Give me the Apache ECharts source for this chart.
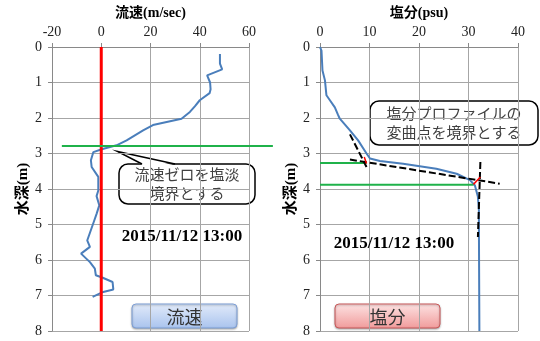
<!DOCTYPE html>
<html>
<head>
<meta charset="utf-8">
<script src="https://cdn.jsdelivr.net/npm/echarts@6/dist/echarts.min.js"></script>
<style>
  html, body { margin: 0; padding: 0; background: #fff; }
  #chart { width: 540px; height: 341px; }
</style>
</head>
<body>
<div id="chart"></div>
<script>
// Velocity profile (m/sec) by depth (m)
const velDepth = [0.2, 0.47, 0.63, 0.8, 1.0, 1.19, 1.3, 1.5, 1.67, 1.83, 2.02, 2.2, 2.35, 2.63, 2.77, 2.88, 2.96, 3.19, 3.38, 3.66, 4.04, 4.2, 4.46, 4.7, 4.88, 5.45, 5.63, 5.82, 6.06, 6.24, 6.43, 6.5, 6.62, 6.83, 6.9, 7.04];
const velocity = [48.2, 48.2, 49.1, 43.0, 44.2, 44.4, 44.0, 40.0, 38.0, 36.0, 32.6, 21.0, 17.0, 10.3, 6.2, 0.2, -3.2, -4.2, -3.9, -1.2, -1.2, -1.9, -0.8, -1.9, -2.8, -5.7, -4.6, -8.2, -4.6, -2.6, -2.2, 0.6, 4.6, 4.9, 0.8, -3.5];

// Salinity profile (psu) by depth (m)
const salDepth = [0, 0.1, 0.66, 0.94, 1.36, 1.5, 1.7, 1.9, 2.02, 2.35, 2.63, 3.0, 3.14, 3.21, 3.29, 3.43, 3.57, 3.75, 3.9, 4.22, 4.6, 5.0, 8.0];
const salinity = [0, 0.3, 0.5, 1.0, 1.3, 2.0, 3.0, 3.6, 4.0, 6.05, 7.7, 9.4, 10.1, 12.1, 16.8, 23.5, 27.6, 30.3, 31.3, 31.9, 32.1, 32.1, 32.2];

// Boundary depth where the velocity crosses zero
const zeroBoundary = { depth: 2.79, from: -16, to: 69.7 };
const zeroLine = { x: 0, depthTop: 0, depthBottom: 8 };

// Tangent lines for the salinity inflection points
const tangentA = [[6.05, 2.46], [9.4, 3.38]];
const tangentB = [[6.05, 3.17], [36.3, 3.85]];
const tangentC = [[32.4, 3.24], [31.9, 5.35]];
const inflectA = [[8.94, 3.1], [9.4, 3.28]];
const inflectB = [[31.0, 3.87], [32.4, 3.66]];
const boundaryUpper = { depth: 3.27, to: 9.4 };
const boundaryLower = { depth: 3.88, to: 31.0 };

// Axis ranges and ticks
const velAxis = { min: -20, max: 60, interval: 20 };
const salAxis = { min: 0, max: 40, interval: 10 };
const depthAxis = { min: 0, max: 8, interval: 1 };

const titles = { vel: '流速(m/sec)', sal: '塩分(psu)', depth: '水深(m)' };
const stamp = '2015/11/12 13:00';

const zip = (xs, ys) => xs.map((x, i) => [x, ys[i]]);

const serif = '"Liberation Serif", "Noto Sans CJK JP", serif';
const cjk = '"Noto Sans CJK JP", sans-serif';
const gridColor = '#a6a6a6';
const blue = '#4a7ebb';
const green = '#1fb24a';

function xAxisFor(idx, range, name) {
  return {
    gridIndex: idx, type: 'value', position: 'top',
    min: range.min, max: range.max, interval: range.interval,
    name: name, nameLocation: 'middle', nameGap: 26,
    nameTextStyle: { fontFamily: serif, fontWeight: 'bold', fontSize: 14, color: '#000' },
    axisLine: { show: true, onZero: false, lineStyle: { color: '#898989', width: 1 } },
    axisTick: { show: true, length: 4, lineStyle: { color: '#898989' } },
    axisLabel: { fontFamily: serif, fontSize: 14, color: '#222', margin: 8 },
    splitLine: { show: true, lineStyle: { color: gridColor, width: 1 } }
  };
}
function yAxisFor(idx, name) {
  return {
    gridIndex: idx, type: 'value', inverse: true,
    min: depthAxis.min, max: depthAxis.max, interval: depthAxis.interval,
    name: name, nameLocation: 'middle', nameGap: 19, nameRotate: 90,
    nameTextStyle: { fontFamily: serif, fontWeight: 'bold', fontSize: 15, color: '#000' },
    axisLine: { show: true, onZero: false, lineStyle: { color: '#898989', width: 1 } },
    axisTick: { show: true, length: 4, lineStyle: { color: '#898989' } },
    axisLabel: { fontFamily: serif, fontSize: 14, color: '#222', margin: 10 },
    splitLine: { show: true, lineStyle: { color: gridColor, width: 1 } }
  };
}

function seg(idx, data, color, width, type, z) {
  return {
    type: 'line', xAxisIndex: idx, yAxisIndex: idx, data: data,
    showSymbol: false, symbol: 'none', silent: true, clip: false, z: z || 3,
    lineStyle: { color: color, width: width, type: type || 'solid' }
  };
}

function callout(x, y, w, h, lines, tail) {
  const children = [{
    type: 'rect', shape: { x: x, y: y, width: w, height: h, r: 9 },
    style: { fill: '#fff', stroke: '#000', lineWidth: 1.5 }
  }];
  if (tail) {
    children.push({
      type: 'polygon', shape: { points: [[tail[0][0] + 1, y + 1.2], tail[1], [tail[2][0] - 1, y + 1.2]] },
      style: { fill: '#fff', stroke: null }
    });
    children.push({
      type: 'polyline', shape: { points: [[tail[0][0], y], tail[1], [tail[2][0], y]] },
      style: { stroke: '#000', lineWidth: 1.5, fill: null }
    });
  }
  children.push({
    type: 'text', style: {
      text: lines.join('\n'), x: x + w / 2, y: y + h / 2,
      align: 'center', verticalAlign: 'middle',
      font: '15px ' + cjk, fill: '#404040', lineHeight: 19
    }
  });
  return { type: 'group', z: 20, children: children };
}

function button(x, y, w, h, label, top, bottom, border) {
  return {
    type: 'group', z: 20, children: [
      {
        type: 'rect', shape: { x: x, y: y, width: w, height: h, r: 4 },
        style: {
          fill: new echarts.graphic.LinearGradient(0, 0, 0, 1, [
            { offset: 0, color: top }, { offset: 1, color: bottom }
          ]),
          stroke: border, lineWidth: 1,
          shadowBlur: 2, shadowOffsetY: 1, shadowColor: 'rgba(0,0,0,0.3)'
        }
      },
      {
        type: 'text', style: {
          text: label, x: x + w / 2, y: y + h / 2 + 1, align: 'center', verticalAlign: 'middle',
          font: '18px ' + cjk, fill: '#333'
        }
      }
    ]
  };
}

const chart = echarts.init(document.getElementById('chart'), null, { renderer: 'canvas' });
chart.setOption({
  animation: false,
  backgroundColor: '#fff',
  grid: [
    { left: 52, top: 47, width: 197, height: 284, outerBoundsMode: 'none', containLabel: false },
    { left: 320, top: 47, width: 198, height: 284, outerBoundsMode: 'none', containLabel: false }
  ],
  xAxis: [xAxisFor(0, velAxis, titles.vel), xAxisFor(1, salAxis, titles.sal)],
  yAxis: [yAxisFor(0, titles.depth), yAxisFor(1, titles.depth)],
  series: [
    seg(0, zip(velocity, velDepth), blue, 2, 'solid', 3),
    seg(0, [[zeroLine.x, zeroLine.depthTop], [zeroLine.x, zeroLine.depthBottom]], '#ff0000', 3, 'solid', 4),

    seg(1, zip(salinity, salDepth), blue, 2, 'solid', 3),
    seg(1, [[0, boundaryUpper.depth], [boundaryUpper.to, boundaryUpper.depth]], green, 2, 'solid', 4),
    seg(1, [[0, boundaryLower.depth], [boundaryLower.to, boundaryLower.depth]], green, 2, 'solid', 4),
    seg(1, tangentA, '#000', 2, [7, 3], 5),
    seg(1, tangentB, '#000', 2, [7, 3], 5),
    seg(1, tangentC, '#000', 2, [7, 3], 5),
    seg(1, inflectA, '#ff0000', 1.5, 'solid', 6),
    seg(1, inflectB, '#ff0000', 1.5, 'solid', 6)
  ],
  graphic: [
    callout(119, 164, 136, 40, ['流速ゼロを塩淡', '境界とする'], [[142, 0], [117.5, 151.5], [175, 0]]),
    callout(370, 101, 168, 44, ['塩分プロファイルの', '変曲点を境界とする'], null),
    {
      type: 'text', z: 20, style: {
        text: stamp, x: 182, y: 237, align: 'center', verticalAlign: 'middle',
        font: 'bold 17px "Liberation Serif", serif', fill: '#000'
      }
    },
    {
      type: 'text', z: 20, style: {
        text: stamp, x: 394, y: 244, align: 'center', verticalAlign: 'middle',
        font: 'bold 17px "Liberation Serif", serif', fill: '#000'
      }
    },
    button(132, 304, 105, 24, '流速', '#e2ebfa', '#a9c3ee', '#7d9fd6'),
    button(335, 304, 105, 24, '塩分', '#fde3e3', '#f19b9b', '#c9595a')
  ]
});

// The zero-velocity boundary runs past the plot edge, so it is placed
// through the velocity grid's own scales and drawn as a free line.
const p0 = chart.convertToPixel({ gridIndex: 0 }, [zeroBoundary.from, zeroBoundary.depth]);
const p1 = chart.convertToPixel({ gridIndex: 0 }, [zeroBoundary.to, zeroBoundary.depth]);
chart.setOption({
  graphic: [{
    id: 'zeroBoundary', type: 'line', z: 10,
    shape: { x1: p0[0], y1: p0[1], x2: p1[0], y2: p1[1] },
    style: { stroke: green, lineWidth: 2 }
  }]
});
</script>
</body>
</html>
